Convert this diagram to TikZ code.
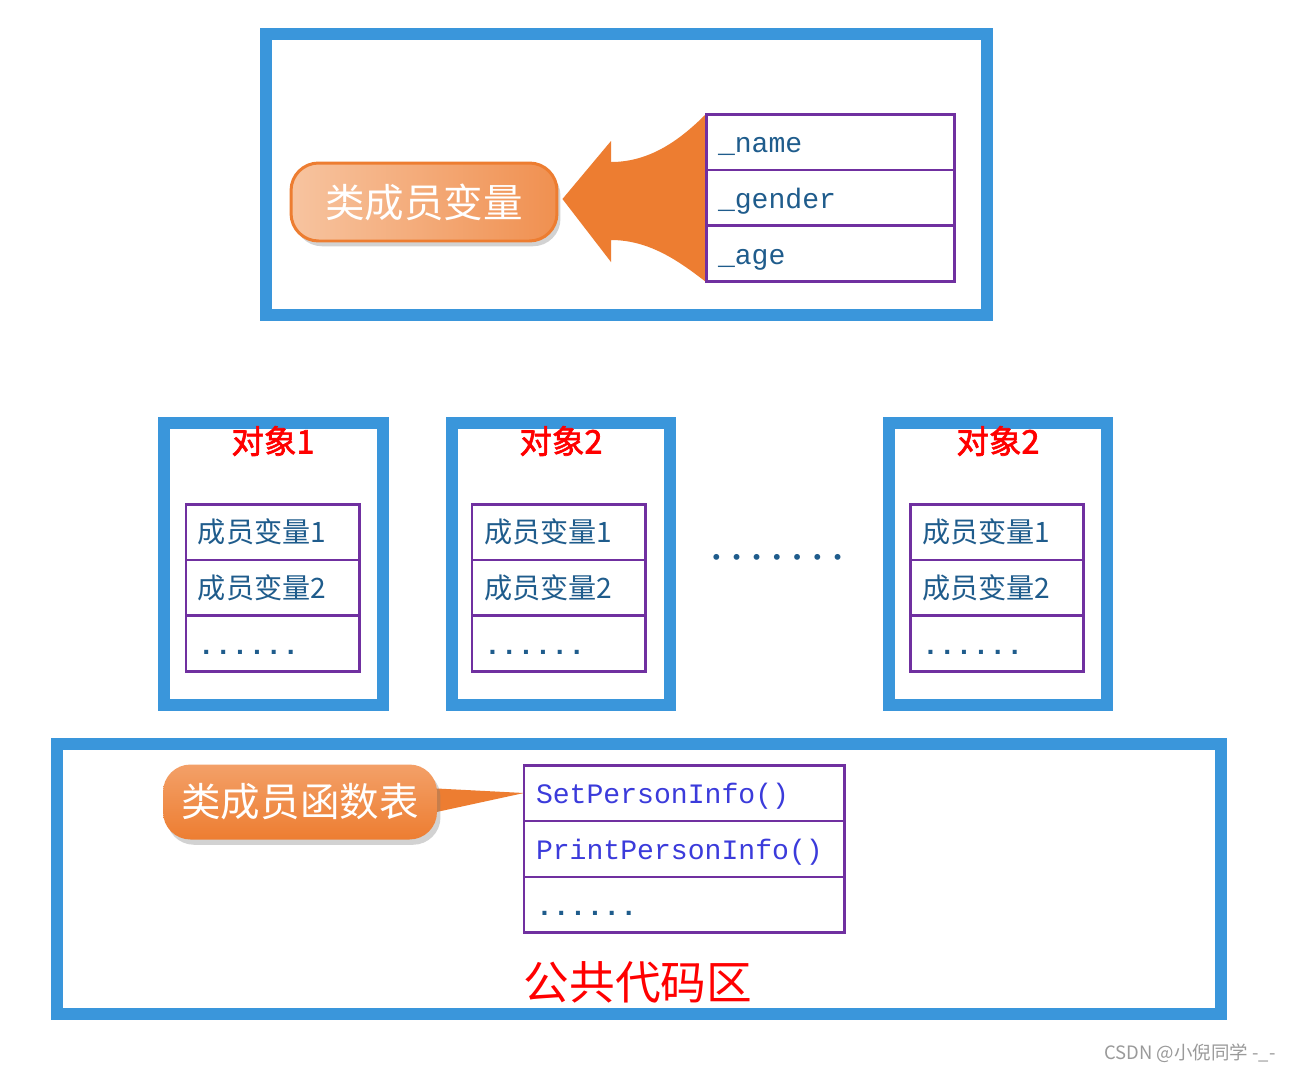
\documentclass[tikz,border=0pt]{standalone}
\usepackage{fontspec}
\usetikzlibrary{shadows,calc,backgrounds}
\setmainfont{Liberation Serif}
\newfontfamily\cjk{Noto Sans CJK SC}
\newfontfamily\cjkb[FakeBold=2]{Noto Sans CJK SC}
\newfontfamily\monof{Liberation Mono}
\newcommand{\rowstrut}{\rule[-3.5pt]{0pt}{19pt}}
\definecolor{frameblue}{HTML}{3A96DB}
\definecolor{pur}{HTML}{7030A0}
\definecolor{org}{HTML}{ED7D31}
\definecolor{orgl}{HTML}{F7C4A0}
\definecolor{orgm}{HTML}{F09050}
\definecolor{orgt}{HTML}{F3A068}
\definecolor{txt}{HTML}{1F5C8C}
\definecolor{fn}{HTML}{3B3BDB}
\definecolor{redt}{HTML}{FF0000}
\definecolor{wm}{HTML}{9A9A9A}
\begin{document}
\begin{tikzpicture}[x=0.02cm,y=-0.02cm,
  frame/.style={draw=frameblue,line width=6.8pt},
  row/.style={draw=pur,line width=1.7pt,minimum height=11.2mm,inner xsep=2.4mm,inner ysep=0pt,outer sep=0pt,
    anchor=north west,align=left,text=txt,font=\monof\fontsize{16pt}{19pt}\selectfont},
  cjkrow/.style={row,font=\cjk\fontsize{16pt}{19pt}\selectfont},
  fnrow/.style={row,text=fn},
  title/.style={text=redt,font=\cjkb\fontsize{18.5pt}{20pt}\selectfont},
  callout/.style={rounded corners=5.5mm,text=white,font=\cjk\fontsize{22.5pt}{24pt}\selectfont,
    drop shadow={shadow xshift=2pt,shadow yshift=-3pt,opacity=0.35}}
]
\useasboundingbox (0,0) rectangle (1295,1073);

% ---------- top: class member variables ----------
\draw[frame] (266,34) rectangle (987,315);
\node[row,text width=45mm] (n1) at (706,114) {\rowstrut\_name};
\node[row,text width=45mm] (n2) at (n1.south west) {\rowstrut\_gender};
\node[row,text width=45mm] (n3) at (n2.south west) {\rowstrut\_age};
\node[callout,draw=org,line width=1.7pt,left color=orgl,right color=orgm,
  minimum width=53.2mm,minimum height=15.6mm] (tcall) at (424,202) {类成员变量};

% ---------- objects ----------
\draw[frame] (164,423) rectangle (383,705);
\draw[frame] (452,423) rectangle (670,705);
\draw[frame] (889,423) rectangle (1107,705);
\node[title] (o1) at (273,441) {对象1};
\node[title] (o2) at (561,441) {对象2};
\node[title] (o3) at (998,441) {对象2};

\node[cjkrow,text width=30mm] (a1) at (186,504) {\rowstrut 成员变量1};
\node[cjkrow,text width=30mm] (a2) at (a1.south west) {\rowstrut 成员变量2};
\node[row,text width=30mm] (a3) at (a2.south west) {\rowstrut\textbf{......}};

\node[cjkrow,text width=30mm] (b1) at (472,504) {\rowstrut 成员变量1};
\node[cjkrow,text width=30mm] (b2) at (b1.south west) {\rowstrut 成员变量2};
\node[row,text width=30mm] (b3) at (b2.south west) {\rowstrut\textbf{......}};

\node[cjkrow,text width=30mm] (c1) at (910,504) {\rowstrut 成员变量1};
\node[cjkrow,text width=30mm] (c2) at (c1.south west) {\rowstrut 成员变量2};
\node[row,text width=30mm] (c3) at (c2.south west) {\rowstrut\textbf{......}};

\node[text=txt,font=\fontsize{14pt}{14pt}\selectfont] (gap) at (777,560)
  {\textbullet\hspace{6.6pt}\textbullet\hspace{6.6pt}\textbullet\hspace{6.6pt}\textbullet\hspace{6.6pt}\textbullet\hspace{6.6pt}\textbullet\hspace{6.6pt}\textbullet};

% ---------- bottom: public code area ----------
\draw[frame] (57,744) rectangle (1221,1014);
\node[fnrow,text width=59.4mm] (f1) at (524,765) {\rowstrut SetPersonInfo()};
\node[fnrow,text width=59.4mm] (f2) at (f1.south west) {\rowstrut PrintPersonInfo()};
\node[row,text width=59.4mm] (f3) at (f2.south west) {\rowstrut\textbf{......}};
\node[callout,top color=orgt,bottom color=org,
  minimum width=54.8mm,minimum height=15mm] (fcall) at (300,802) {类成员函数表};
\node[text=redt,font=\cjk\fontsize{26pt}{28pt}\selectfont] (pub) at (638,982) {公共代码区};

\node[text=wm,font=\cjk\fontsize{10.5pt}{12pt}\selectfont] (wmk) at (1190,1053) {CSDN @小倪同学 -\_-};

% ---------- background layer: white page, arrow, pointer ----------
\begin{scope}[on background layer]
\fill[white] (0,0) rectangle (1295,1073);
\fill[org] ($(tcall.east)+(4,-3)$) -- (611,141) -- (611,162)
  .. controls (650,162) and (680,140) .. (n1.north west)
  -- (n3.south west)
  .. controls (680,262) and (650,240) .. (611,240)
  -- (611,262) -- cycle;
\fill[org] ($(fcall.east)+(-10,-14)$) -- (f1.west) -- ($(fcall.east)+(-10,12)$) -- cycle;
\end{scope}
\end{tikzpicture}
\end{document}
